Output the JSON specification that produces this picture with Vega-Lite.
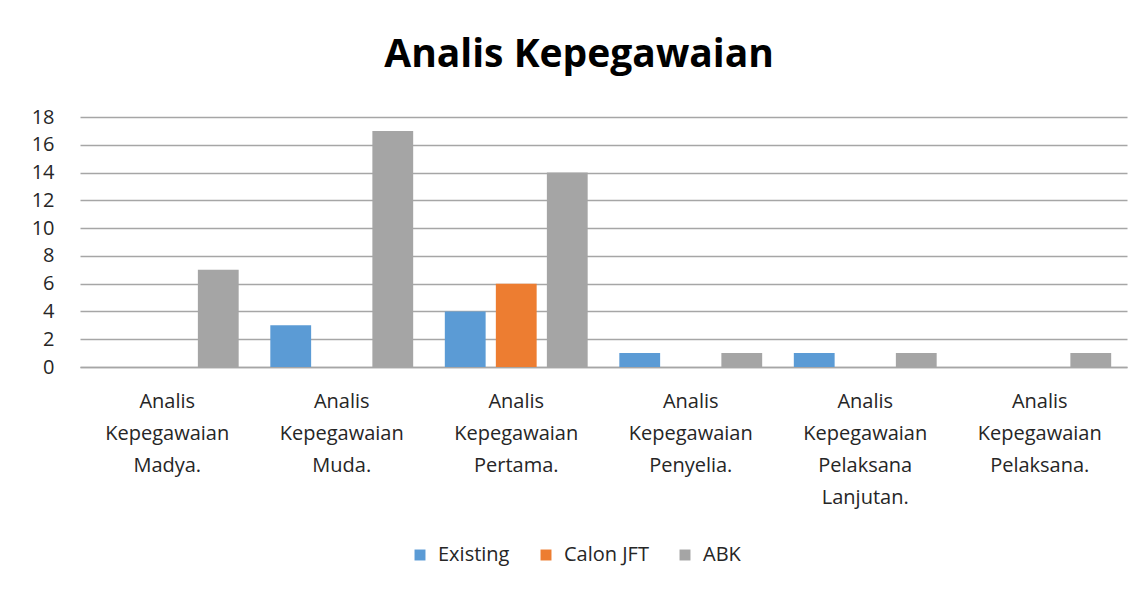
{
  "$schema": "https://vega.github.io/schema/vega-lite/v6.json",
  "width": 1047,
  "height": 250,
  "autosize": {"type": "none"},
  "padding": {"left": 80, "top": 117, "right": 14, "bottom": 228},
  "background": "white",
  "title": {
    "text": "Analis Kepegawaian",
    "font": "Open Sans",
    "fontSize": 39,
    "fontWeight": "bold",
    "color": "#000000",
    "anchor": "middle",
    "frame": "bounds",
    "offset": 32
  },
  "data": {
    "values": [
      {"kategori": "Analis|Kepegawaian|Madya.", "seri": "Existing", "nilai": 0},
      {"kategori": "Analis|Kepegawaian|Madya.", "seri": "Calon JFT", "nilai": 0},
      {"kategori": "Analis|Kepegawaian|Madya.", "seri": "ABK", "nilai": 7},
      {"kategori": "Analis|Kepegawaian|Muda.", "seri": "Existing", "nilai": 3},
      {"kategori": "Analis|Kepegawaian|Muda.", "seri": "Calon JFT", "nilai": 0},
      {"kategori": "Analis|Kepegawaian|Muda.", "seri": "ABK", "nilai": 17},
      {"kategori": "Analis|Kepegawaian|Pertama.", "seri": "Existing", "nilai": 4},
      {"kategori": "Analis|Kepegawaian|Pertama.", "seri": "Calon JFT", "nilai": 6},
      {"kategori": "Analis|Kepegawaian|Pertama.", "seri": "ABK", "nilai": 14},
      {"kategori": "Analis|Kepegawaian|Penyelia.", "seri": "Existing", "nilai": 1},
      {"kategori": "Analis|Kepegawaian|Penyelia.", "seri": "Calon JFT", "nilai": 0},
      {"kategori": "Analis|Kepegawaian|Penyelia.", "seri": "ABK", "nilai": 1},
      {"kategori": "Analis|Kepegawaian|Pelaksana|Lanjutan.", "seri": "Existing", "nilai": 1},
      {"kategori": "Analis|Kepegawaian|Pelaksana|Lanjutan.", "seri": "Calon JFT", "nilai": 0},
      {"kategori": "Analis|Kepegawaian|Pelaksana|Lanjutan.", "seri": "ABK", "nilai": 1},
      {"kategori": "Analis|Kepegawaian|Pelaksana.", "seri": "Existing", "nilai": 0},
      {"kategori": "Analis|Kepegawaian|Pelaksana.", "seri": "Calon JFT", "nilai": 0},
      {"kategori": "Analis|Kepegawaian|Pelaksana.", "seri": "ABK", "nilai": 1}
    ]
  },
  "mark": {"type": "bar"},
  "encoding": {
    "x": {
      "field": "kategori",
      "type": "nominal",
      "sort": null,
      "scale": {"paddingInner": 0, "paddingOuter": 0},
      "axis": {
        "title": null,
        "labelAngle": 0,
        "labelExpr": "split(datum.label, '|')",
        "labelFont": "Open Sans",
        "labelFontSize": 20,
        "labelColor": "#262626",
        "labelLineHeight": 32,
        "labelPadding": 24,
        "labelBaseline": "top",
        "ticks": false,
        "domainColor": "#a6a6a6",
        "domainWidth": 1.5,
        "grid": false
      }
    },
    "xOffset": {
      "field": "seri",
      "type": "nominal",
      "sort": ["Existing", "Calon JFT", "ABK"],
      "scale": {"paddingInner": 0.2, "paddingOuter": 0.31}
    },
    "y": {
      "field": "nilai",
      "type": "quantitative",
      "scale": {"domain": [0, 18]},
      "axis": {
        "title": null,
        "values": [0, 2, 4, 6, 8, 10, 12, 14, 16, 18],
        "labelFont": "Open Sans",
        "labelFontSize": 20,
        "labelColor": "#262626",
        "labelPadding": 26,
        "ticks": false,
        "domain": false,
        "gridColor": "#a6a6a6",
        "gridWidth": 1.5
      }
    },
    "color": {
      "field": "seri",
      "type": "nominal",
      "scale": {
        "domain": ["Existing", "Calon JFT", "ABK"],
        "range": ["#5B9BD5", "#ED7D31", "#A5A5A5"]
      },
      "legend": {
        "title": null,
        "orient": "none",
        "legendX": 330,
        "legendY": 428,
        "direction": "horizontal",
        "symbolType": "square",
        "symbolSize": 120,
        "symbolStrokeWidth": 0,
        "labelFont": "Open Sans",
        "labelFontSize": 20,
        "labelColor": "#262626",
        "labelOffset": 8,
        "columnPadding": 26
      }
    }
  },
  "config": {
    "view": {"stroke": null}
  }
}
